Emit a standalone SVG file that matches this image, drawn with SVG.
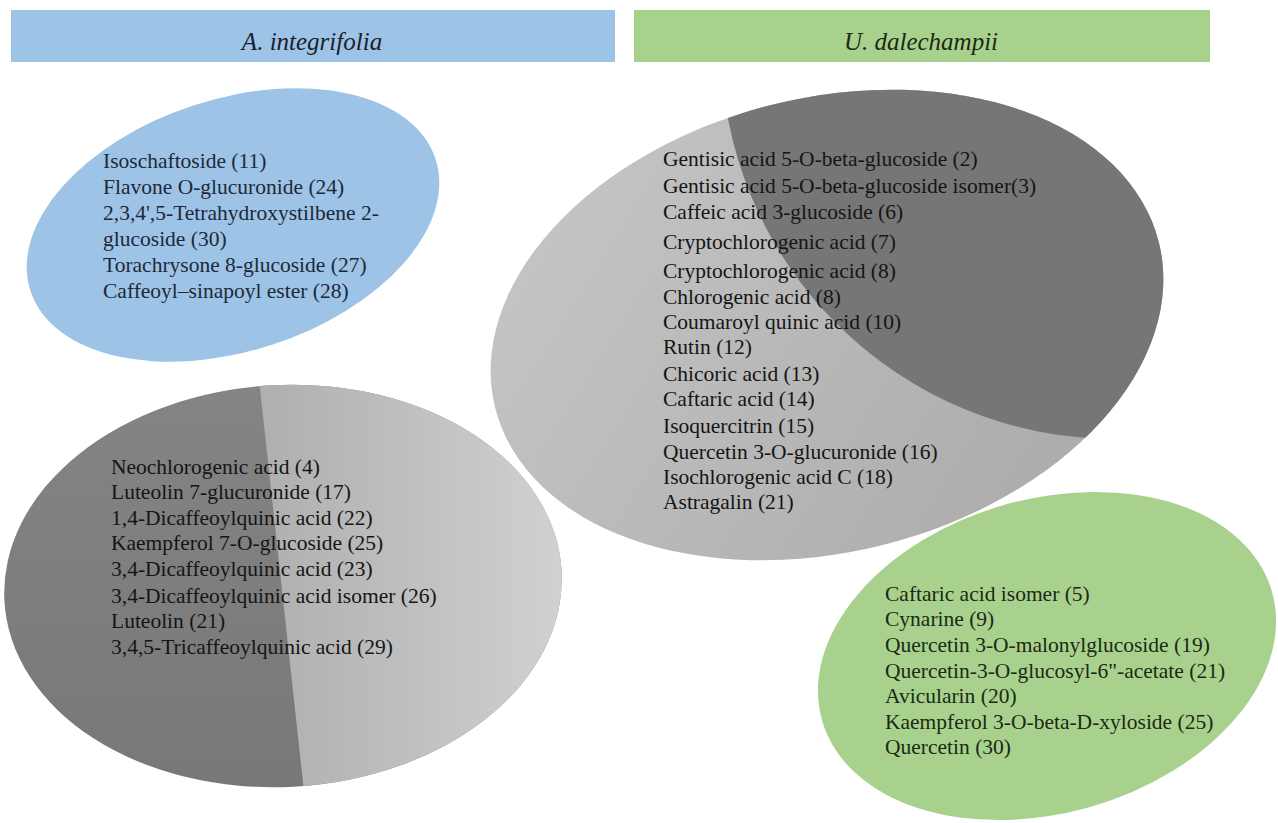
<svg xmlns="http://www.w3.org/2000/svg" width="1278" height="823" viewBox="0 0 1278 823">
  <defs>
    <style>
      .hdr { font-family: 'Liberation Serif', 'Times New Roman', serif; font-style: italic; font-size: 25px; text-anchor: middle; }
      .lbl { font-family: 'Liberation Serif', 'Times New Roman', serif; font-size: 21.5px; }
      .blueTxt { fill: #1d2939; }
      .greenTxt { fill: #1a2a14; }
      .grayTxt { fill: #151515; }
    </style>
    <clipPath id="clipLL">
      <ellipse cx="283" cy="586" rx="279" ry="201" transform="rotate(-3 283 586)"/>
    </clipPath>
    <clipPath id="clipC">
      <ellipse cx="827" cy="325" rx="342" ry="227" transform="rotate(-14 827 325)"/>
    </clipPath>
    <linearGradient id="gLLdark" x1="0" y1="0" x2="0" y2="1">
      <stop offset="0" stop-color="#858585"/>
      <stop offset="1" stop-color="#777777"/>
    </linearGradient>
    <linearGradient id="gLLlight" gradientUnits="userSpaceOnUse" x1="270" y1="0" x2="562" y2="0">
      <stop offset="0" stop-color="#b0b0b0"/>
      <stop offset="1" stop-color="#d2d0d0"/>
    </linearGradient>
    <linearGradient id="gClight" gradientUnits="userSpaceOnUse" x1="490" y1="200" x2="1000" y2="520">
      <stop offset="0" stop-color="#c6c6c6"/>
      <stop offset="1" stop-color="#adadad"/>
    </linearGradient>
  </defs>

  <rect width="1278" height="823" fill="#ffffff"/>

  <g id="header-a-integrifolia">
    <rect x="11" y="10" width="604" height="52" fill="#9dc3e6"/>
    <text class="hdr" x="312" y="50" fill="#1a1f2b">A. integrifolia</text>
  </g>

  <g id="header-u-dalechampii">
    <rect x="634" y="10" width="576" height="52" fill="#a9d18e"/>
    <text class="hdr" x="921" y="50" fill="#1b2a12">U. dalechampii</text>
  </g>

  <g id="node-a-integrifolia-only">
    <ellipse cx="233" cy="225" rx="213" ry="126" transform="rotate(-18 233 225)" fill="#9dc3e6"/>
    <text class="lbl blueTxt">
      <tspan x="103" y="168">Isoschaftoside (11)</tspan>
      <tspan x="103" y="194">Flavone O-glucuronide (24)</tspan>
      <tspan x="103" y="220">2,3,4',5-Tetrahydroxystilbene  2-</tspan>
      <tspan x="103" y="246">glucoside (30)</tspan>
      <tspan x="103" y="272">Torachrysone 8-glucoside (27)</tspan>
      <tspan x="103" y="298">Caffeoyl–sinapoyl ester (28)</tspan>
    </text>
  </g>

  <g id="node-a-integrifolia-shared">
    <g clip-path="url(#clipLL)">
      <rect x="0" y="370" width="600" height="440" fill="url(#gLLdark)"/>
      <polygon points="258,370 600,370 600,810 306,810" fill="url(#gLLlight)"/>
    </g>
    <text class="lbl grayTxt">
      <tspan x="111" y="474">Neochlorogenic acid (4)</tspan>
      <tspan x="111" y="499">Luteolin 7-glucuronide (17)</tspan>
      <tspan x="111" y="525">1,4-Dicaffeoylquinic acid (22)</tspan>
      <tspan x="111" y="550">Kaempferol 7-O-glucoside (25)</tspan>
      <tspan x="111" y="576">3,4-Dicaffeoylquinic acid (23)</tspan>
      <tspan x="111" y="603">3,4-Dicaffeoylquinic acid isomer (26)</tspan>
      <tspan x="111" y="628">Luteolin (21)</tspan>
      <tspan x="111" y="654">3,4,5-Tricaffeoylquinic acid (29)</tspan>
    </text>
  </g>

  <g id="node-common">
    <g clip-path="url(#clipC)">
      <rect x="480" y="80" width="700" height="500" fill="url(#gClight)"/>
      <circle cx="1115" cy="45" r="394" fill="#767676"/>
    </g>
    <text class="lbl grayTxt">
      <tspan x="663" y="166">Gentisic acid 5-O-beta-glucoside (2)</tspan>
      <tspan x="663" y="193">Gentisic acid 5-O-beta-glucoside isomer(3)</tspan>
      <tspan x="663" y="219">Caffeic acid 3-glucoside (6)</tspan>
      <tspan x="663" y="249">Cryptochlorogenic acid (7)</tspan>
      <tspan x="663" y="278">Cryptochlorogenic acid (8)</tspan>
      <tspan x="663" y="304">Chlorogenic acid (8)</tspan>
      <tspan x="663" y="329">Coumaroyl quinic acid (10)</tspan>
      <tspan x="663" y="354">Rutin (12)</tspan>
      <tspan x="663" y="381">Chicoric acid (13)</tspan>
      <tspan x="663" y="406">Caftaric acid (14)</tspan>
      <tspan x="663" y="433">Isoquercitrin (15)</tspan>
      <tspan x="663" y="459">Quercetin 3-O-glucuronide (16)</tspan>
      <tspan x="663" y="484">Isochlorogenic acid C (18)</tspan>
      <tspan x="663" y="509">Astragalin (21)</tspan>
    </text>
  </g>

  <g id="node-u-dalechampii-only">
    <ellipse cx="1047" cy="656" rx="234" ry="157" transform="rotate(-16 1047 656)" fill="#a9d18e"/>
    <text class="lbl greenTxt">
      <tspan x="885" y="601">Caftaric acid isomer (5)</tspan>
      <tspan x="885" y="626">Cynarine (9)</tspan>
      <tspan x="885" y="652">Quercetin 3-O-malonylglucoside (19)</tspan>
      <tspan x="885" y="678">Quercetin-3-O-glucosyl-6"-acetate  (21)</tspan>
      <tspan x="885" y="703">Avicularin (20)</tspan>
      <tspan x="885" y="729">Kaempferol 3-O-beta-D-xyloside (25)</tspan>
      <tspan x="885" y="754">Quercetin (30)</tspan>
    </text>
  </g>

  <g id="connectors"/>
</svg>
